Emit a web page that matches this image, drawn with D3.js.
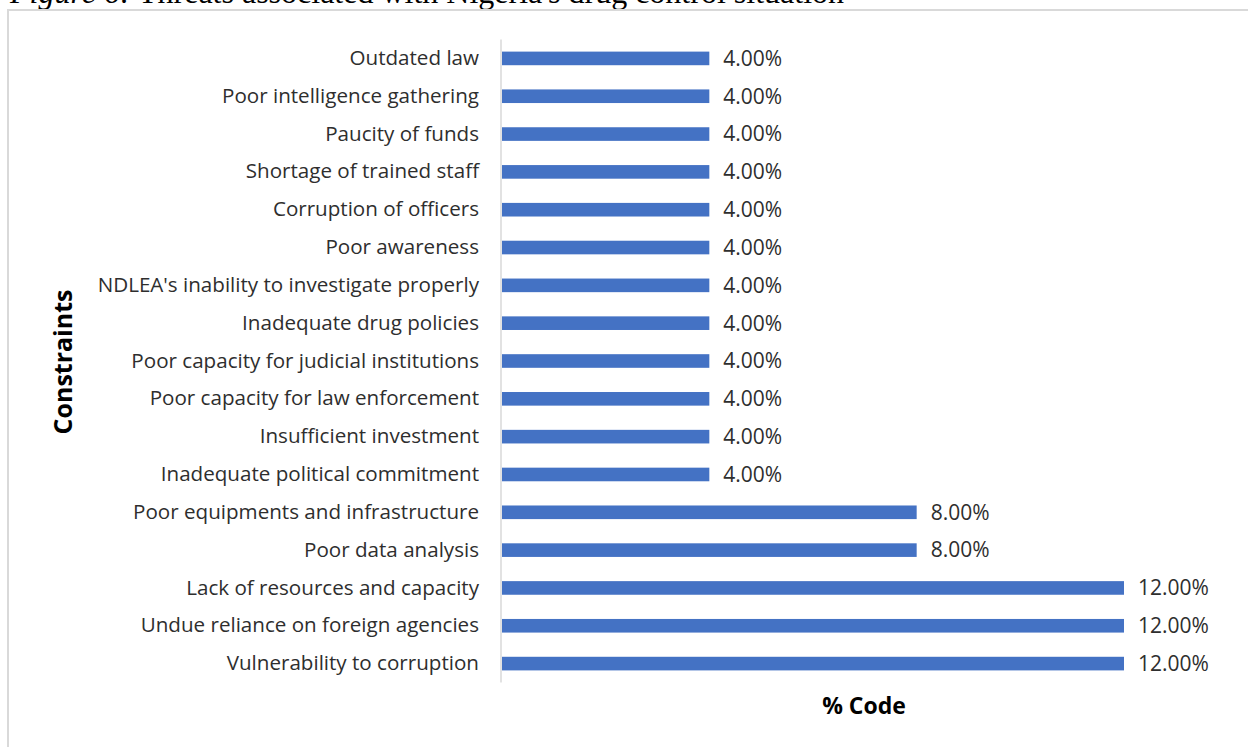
<!DOCTYPE html>
<html><head><meta charset="utf-8">
<script src="https://cdn.jsdelivr.net/npm/d3@7"></script>
<style>html,body{margin:0;padding:0;background:#fff;overflow:hidden}</style>
</head><body>
<svg id="c" width="1248" height="747"></svg>
<script>
const categories = [
  "Outdated law",
  "Poor intelligence gathering",
  "Paucity of funds",
  "Shortage of trained staff",
  "Corruption of officers",
  "Poor awareness",
  "NDLEA's inability to investigate properly",
  "Inadequate drug policies",
  "Poor capacity for judicial institutions",
  "Poor capacity for law enforcement",
  "Insufficient investment",
  "Inadequate political commitment",
  "Poor equipments and infrastructure",
  "Poor data analysis",
  "Lack of resources and capacity",
  "Undue reliance on foreign agencies",
  "Vulnerability to corruption"
];
const values = [0.04,0.04,0.04,0.04,0.04,0.04,0.04,0.04,0.04,0.04,0.04,0.04,0.08,0.08,0.12,0.12,0.12];
const captionItalic = "Figure 6:";
const captionText = " Threats associated with Nigeria's drug control situation";
const xTitle = "% Code";
const yTitle = "Constraints";

const svg = d3.select("#c");
const font = "'Open Sans', sans-serif";
const textColor = "#2e2e2e";

// caption (cut at top, as in the reference)
const cap = svg.append("text").attr("x", 10).attr("y", 3)
  .attr("font-family", "'Liberation Serif','Times New Roman',serif")
  .attr("font-size", 32).attr("fill", "#000");
cap.append("tspan").attr("font-style", "italic").text(captionItalic);
cap.append("tspan").text(captionText);

// chart frame
svg.append("rect").attr("x", 8).attr("y", 10).attr("width", 1260).attr("height", 760)
  .attr("fill", "none").attr("stroke", "#d9d9d9").attr("stroke-width", 2);

const x = d3.scaleLinear().domain([0, 0.12]).range([502, 1124]);
const y = d3.scaleBand().domain(categories).range([39.5, 682.5]).paddingInner(0.64).paddingOuter(0.32);

// bars
svg.append("g").selectAll("rect").data(categories).join("rect")
  .attr("x", x(0))
  .attr("y", d => y(d))
  .attr("width", (d, i) => x(values[i]) - x(0))
  .attr("height", y.bandwidth())
  .attr("fill", "#4472c4");

// y axis
const yAxis = svg.append("g").attr("transform", `translate(${x(0) - 1},0)`)
  .call(d3.axisLeft(y).tickSize(0).tickPadding(22));
yAxis.select(".domain").attr("stroke", "#d9d9d9").attr("stroke-width", 1.5)
  .attr("d", `M0,${y.range()[0]}V${y.range()[1]}`);
yAxis.selectAll("text").attr("font-family", font).attr("font-size", 20.6)
  .attr("fill", textColor);

// value labels
svg.append("g").selectAll("text").data(categories).join("text")
  .attr("x", (d, i) => x(values[i]) + 14)
  .attr("y", d => y(d) + y.bandwidth() / 2)
  .attr("dy", "0.35em")
  .attr("font-family", font).attr("font-size", 21).attr("fill", textColor)
  .text((d, i) => d3.format(".2%")(values[i]));

// axis titles
svg.append("text").attr("x", 864).attr("y", 714).attr("text-anchor", "middle")
  .attr("font-family", font).attr("font-size", 23).attr("font-weight", "bold")
  .attr("fill", "#000").text(xTitle);
svg.append("text").attr("transform", "translate(72,362) rotate(-90)")
  .attr("text-anchor", "middle")
  .attr("font-family", font).attr("font-size", 25).attr("font-weight", "bold")
  .attr("fill", "#000").text(yTitle);
</script>
</body></html>
